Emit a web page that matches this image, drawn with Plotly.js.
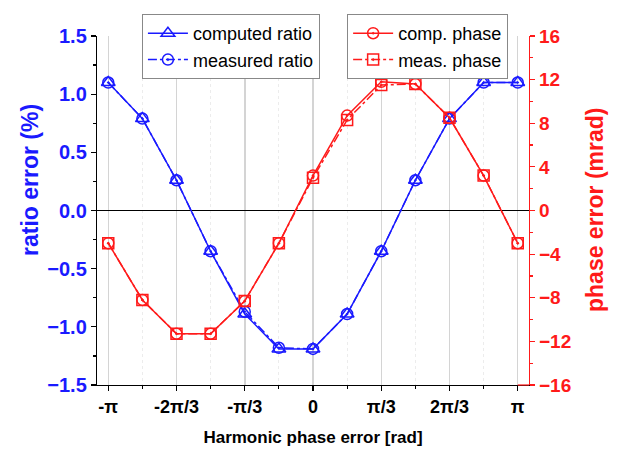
<!DOCTYPE html>
<html>
<head>
<meta charset="utf-8">
<script src="https://cdn.plot.ly/plotly-3.0.1.min.js"></script>
<style>
  html, body { margin: 0; padding: 0; background: #fff; }
  #chart { width: 621px; height: 458px; }
</style>
</head>
<body>
<div id="chart"></div>
<script>
// Harmonic phase error steps in units of pi/6
const phaseSteps = [-6, -5, -4, -3, -2, -1, 0, 1, 2, 3, 4, 5, 6];
const tickSteps = [-6, -4, -2, 0, 2, 4, 6];
const tickLabels = ['-π', '-2π/3', '-π/3', '0', 'π/3', '2π/3', 'π'];
const minorSteps = [-5, -3, -1, 1, 3, 5];

const ratioComputed = [1.10, 0.79, 0.26, -0.35, -0.89, -1.19, -1.19, -0.89, -0.35, 0.26, 0.79, 1.10, 1.10];
const ratioMeasured = [1.10, 0.79, 0.26, -0.35, -0.87, -1.18, -1.19, -0.89, -0.35, 0.26, 0.79, 1.10, 1.10];
const phaseComputed = [-3.0, -8.2, -11.3, -11.3, -8.3, -3.0, 3.2, 8.7, 11.8, 11.6, 8.5, 3.2, -3.0];
const phaseMeasured = [-3.0, -8.2, -11.3, -11.3, -8.3, -3.0, 3.0, 8.3, 11.5, 11.6, 8.5, 3.2, -3.0];

const toRad = s => s * Math.PI / 6;
const xs = phaseSteps.map(toRad);

const BLUE = '#1a1aff';
const RED = '#ff1a1a';
const FONT = 'Liberation Sans, Arial, sans-serif';
const pad = 0.1727;
const xmin = -Math.PI - pad, xmax = Math.PI + pad;

const traces = [
  {
    x: xs, y: phaseComputed, yaxis: 'y2', name: 'comp. phase', legend: 'legend2',
    mode: 'lines+markers', line: {color: RED, width: 1.5},
    marker: {symbol: 'circle-open-dot', size: 11, color: RED, line: {width: 1.5, color: RED}}
  },
  {
    x: xs, y: phaseMeasured, yaxis: 'y2', name: 'meas. phase', legend: 'legend2',
    mode: 'lines+markers', line: {color: RED, width: 1.5, dash: 'dashdot'},
    marker: {symbol: 'square-open-dot', size: 11, color: RED, line: {width: 1.5, color: RED}}
  },
  {
    x: xs, y: ratioComputed, name: 'computed ratio', legend: 'legend',
    mode: 'lines+markers', line: {color: BLUE, width: 1.5},
    marker: {symbol: 'triangle-up-open', size: 12, color: BLUE, line: {width: 1.5, color: BLUE}}
  },
  {
    x: xs, y: ratioMeasured, name: 'measured ratio', legend: 'legend',
    mode: 'lines+markers', line: {color: BLUE, width: 1.5, dash: 'dashdot'},
    marker: {symbol: 'circle-open-dot', size: 11, color: BLUE, line: {width: 1.5, color: BLUE}}
  }
];

const legendCommon = {
  bgcolor: '#ffffff', bordercolor: '#888888', borderwidth: 1,
  font: {family: FONT, size: 18, color: '#000'},
  xanchor: 'left', yanchor: 'top', xref: 'paper', yref: 'paper',
  tracegroupgap: 0, itemwidth: 40, traceorder: 'normal'
};

const layout = {
  width: 621, height: 458,
  margin: {l: 97, r: 92, t: 36, b: 73},
  paper_bgcolor: '#fff', plot_bgcolor: '#fff',
  font: {family: FONT},
  showlegend: true,
  legend: Object.assign({}, legendCommon, {x: 0.104, y: 1.063}),
  legend2: Object.assign({}, legendCommon, {x: 0.579, y: 1.063}),
  xaxis: {
    range: [xmin, xmax],
    tickmode: 'array',
    tickvals: tickSteps.map(toRad),
    ticktext: tickLabels,
    tickfont: {family: FONT, size: 18, color: '#000', weight: 'bold'},
    ticks: 'outside', ticklen: 5, tickwidth: 1.2, tickcolor: '#000',
    showline: true, linecolor: '#000', linewidth: 1.2,
    showgrid: true, gridcolor: '#d4d4d4', gridwidth: 1.5,
    zeroline: false,
    minor: {
      tickmode: 'array', tickvals: minorSteps.map(toRad),
      ticks: 'outside', ticklen: 3, tickcolor: '#000',
      showgrid: true, gridcolor: '#ececec', griddash: 'dot', gridwidth: 1
    },
    title: {text: 'Harmonic phase error [rad]', font: {family: FONT, size: 17, color: '#000', weight: 'bold'}, standoff: 15}
  },
  yaxis: {
    range: [-1.5, 1.5],
    tickmode: 'linear', tick0: -1.5, dtick: 0.5,
    tickformat: '.1f',
    tickfont: {family: FONT, size: 20, color: BLUE, weight: 'bold'},
    ticks: 'outside', ticklen: 5, tickwidth: 1.2, tickcolor: '#000',
    showline: true, linecolor: '#000', linewidth: 1.2,
    showgrid: false,
    zeroline: true, zerolinecolor: '#000', zerolinewidth: 1.3,
    minor: {dtick: 0.25, ticks: 'outside', ticklen: 3, tickcolor: '#000', showgrid: false}
  },
  yaxis2: {
    overlaying: 'y', side: 'right',
    range: [-16, 16],
    tickmode: 'linear', tick0: -16, dtick: 4,
    tickfont: {family: FONT, size: 19, color: RED, weight: 'bold'},
    ticks: 'outside', ticklen: 5, tickwidth: 1.2, tickcolor: RED,
    showline: true, linecolor: RED, linewidth: 1.2,
    showgrid: false, zeroline: false,
    minor: {dtick: 2, ticks: 'outside', ticklen: 3, tickcolor: RED, showgrid: false}
  },
  annotations: [
    {text: 'ratio error (%)', textangle: -90, xref: 'paper', yref: 'paper',
     x: (30 - 97) / 432, y: (385 - 180) / 349, xanchor: 'center', yanchor: 'middle', showarrow: false,
     font: {family: FONT, size: 23, color: BLUE, weight: 'bold'}},
    {text: 'phase error (mrad)', textangle: -90, xref: 'paper', yref: 'paper',
     x: (595 - 97) / 432, y: (385 - 210) / 349, xanchor: 'center', yanchor: 'middle', showarrow: false,
     font: {family: FONT, size: 23, color: RED, weight: 'bold'}}
  ],
  shapes: [
    {type: 'line', xref: 'x', yref: 'paper', x0: Math.PI, x1: xmax, y0: 0, y1: 0,
     line: {color: RED, width: 1.2}, layer: 'above'}
  ]
};

Plotly.newPlot('chart', traces, layout, {displayModeBar: false, staticPlot: true});
</script>
</body>
</html>
